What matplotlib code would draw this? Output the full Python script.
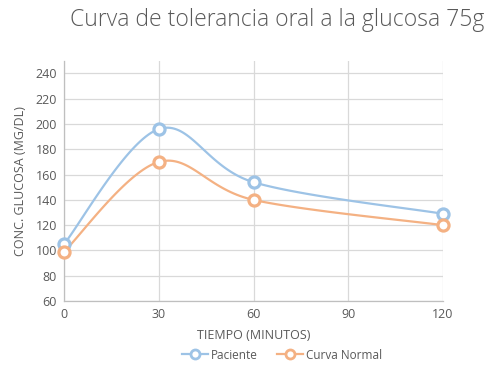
import numpy as np
import matplotlib.pyplot as plt

# datos
tiempo = [0, 30, 60, 120]
paciente = [105, 196, 154, 129]
normal = [99, 170, 140, 120]
x_ticks = [0, 30, 60, 90, 120]
y_ticks = [60, 80, 100, 120, 140, 160, 180, 200, 220, 240]

azul = '#9DC3E6'
naranja = '#F4B183'
gris = '#595959'


def suave(ax, xs, ys, n=40):
    # curva suavizada tipo Excel (bezier con tangentes catmull-rom en pixeles)
    pts = ax.transData.transform(np.column_stack([xs, ys]))
    p = np.vstack([pts[0], pts, pts[-1]])
    out = []
    t = np.linspace(0, 1, n)[:, None]
    for i in range(1, len(p) - 2):
        p0, p1, p2, p3 = p[i - 1], p[i], p[i + 1], p[i + 2]
        c1 = p1 + (p2 - p0) / 6
        c2 = p2 - (p3 - p1) / 6
        b = ((1 - t) ** 3) * p1 + 3 * ((1 - t) ** 2) * t * c1 + 3 * (1 - t) * t ** 2 * c2 + t ** 3 * p2
        out.append(b)
    out = np.vstack(out)
    return ax.transData.inverted().transform(out)


plt.rcParams['font.family'] = ['Open Sans', 'DejaVu Sans']

fig = plt.figure(figsize=(4.95, 3.68), dpi=100)
ax = fig.add_axes([0.1293, 0.182, 0.7657, 0.651])
ax.set_xlim(0, 120)
ax.set_ylim(60, 249.5)
ax.set_xticks(x_ticks)
ax.set_yticks(y_ticks)
ax.grid(True, color='#D9D9D9', linewidth=0.9)
ax.set_axisbelow(True)
for s in ['top', 'right']:
    ax.spines[s].set_visible(False)
for s in ['left', 'bottom']:
    ax.spines[s].set_color('#BFBFBF')
    ax.spines[s].set_linewidth(0.9)
ax.tick_params(length=0, colors=gris, labelsize=9, pad=5)

for ys, col, nom in [(paciente, azul, 'Paciente'), (normal, naranja, 'Curva Normal')]:
    c = suave(ax, tiempo, ys)
    ax.plot(c[:, 0], c[:, 1], color=col, linewidth=1.6, zorder=3, clip_on=False)
    ax.plot(tiempo, ys, linestyle='none', marker='o', markersize=8,
            markerfacecolor='white', markeredgecolor=col, markeredgewidth=2.3,
            zorder=4, clip_on=False)
    # entrada de leyenda
    ax.plot([], [], color=col, linewidth=1.6, marker='o', markersize=6.5,
            markerfacecolor='white', markeredgecolor=col, markeredgewidth=2, label=nom)

ax.set_xlabel('TIEMPO (MINUTOS)', color=gris, fontsize=9, labelpad=6)
ax.set_ylabel('CONC. GLUCOSA (MG/DL)', color=gris, fontsize=9, labelpad=6)

fig.text(0.56, 0.947, 'Curva de tolerancia oral a la glucosa 75g', ha='center', va='center',
         color=gris, fontsize=16.5, fontweight='light')

fig.legend(loc='center', bbox_to_anchor=(0.57, 0.035), ncol=2, frameon=False,
           fontsize=8.5, labelcolor=gris, handlelength=2.2, handletextpad=0.3, columnspacing=1.6)

fig.savefig('out.png', dpi=100)
